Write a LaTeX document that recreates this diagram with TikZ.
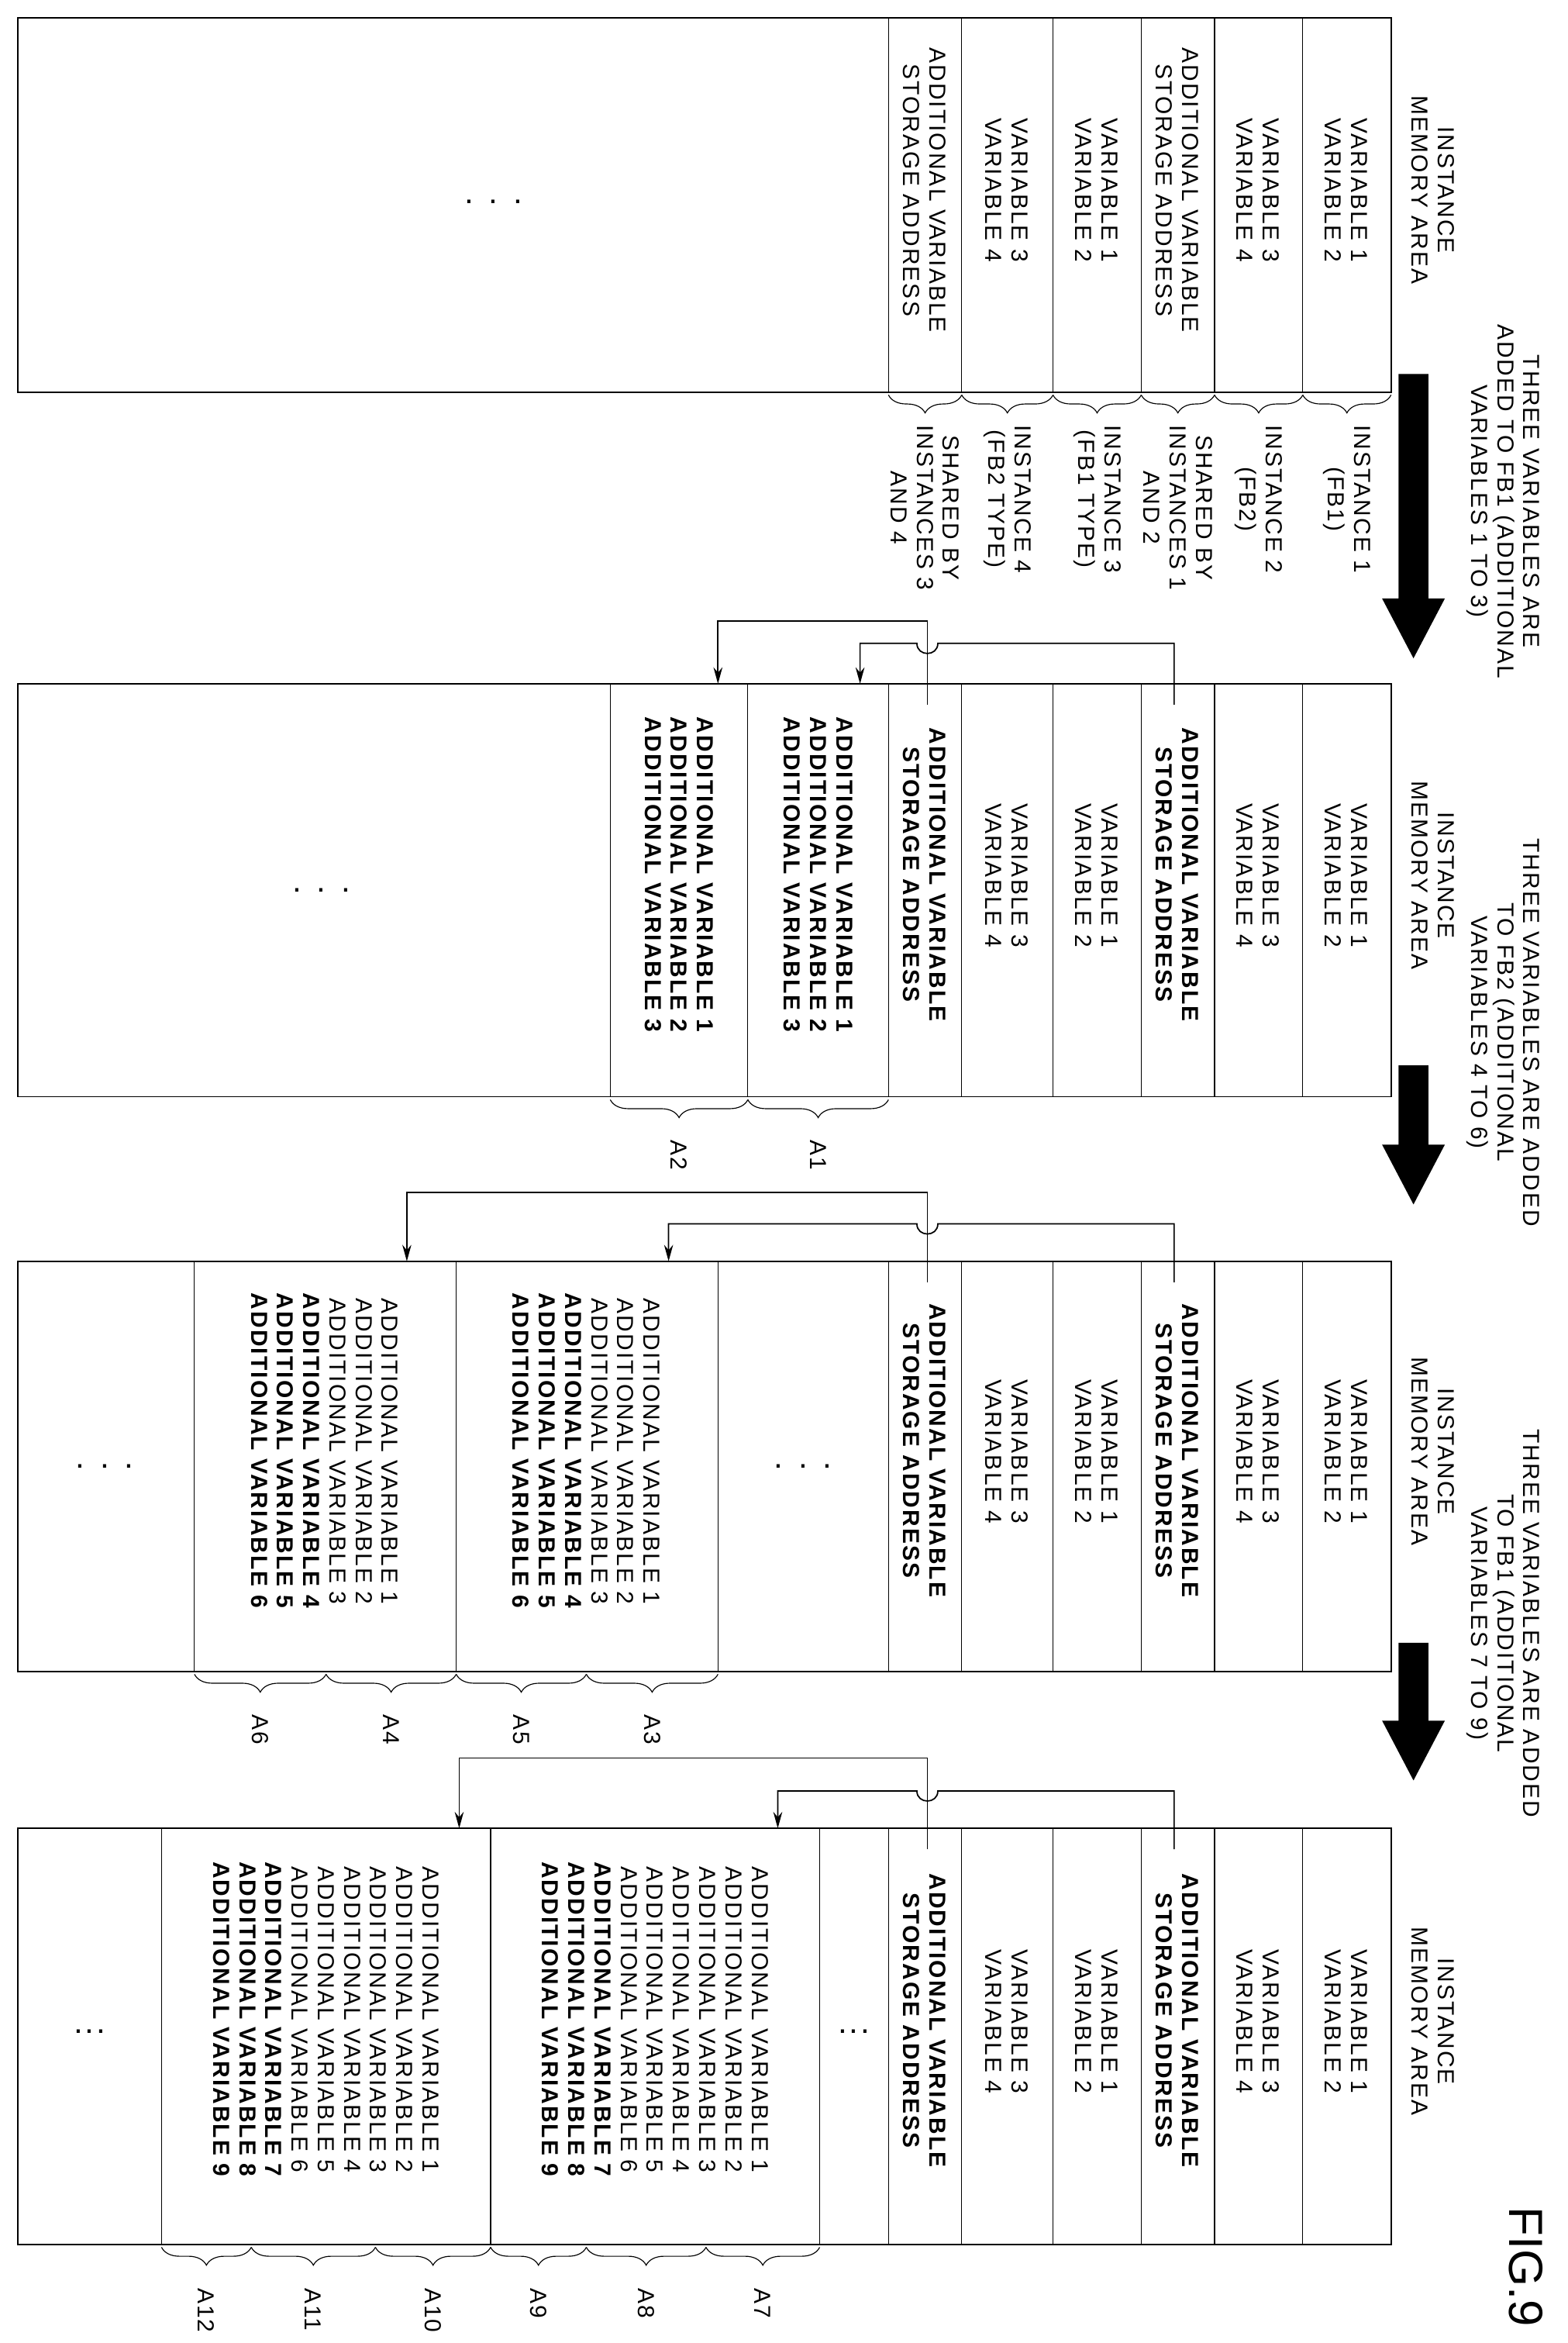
\documentclass[tikz,border=0pt]{standalone}
\usepackage{fontspec}
\setmainfont{Liberation Sans}[LetterSpace=7]
\newfontfamily\figfont{Liberation Sans}
\usetikzlibrary{decorations.pathreplacing,arrows.meta}
\newcommand\fs{\fontsize{15.5}{17.5}\selectfont}
\newcommand\B[1]{\textbf{#1}}
\tikzset{
 txt/.style={rotate=-90,align=center,font=\fs,inner sep=0pt},
 dots/.style={font=\fontsize{22}{22}\selectfont,inner sep=0pt},
 box/.style={draw,line width=1pt},
 div/.style={line width=0.6pt},
 brc/.style={decorate,decoration={brace,amplitude=12pt},line width=0.6pt},
 con/.style={line width=0.9pt},
 arr/.style={con,-{Stealth[length=11pt,width=6pt]}},
 big/.style={fill=black,draw=none}
}
\newcommand\panel[4]{%
 \draw[box] (12,#2) rectangle (930,#3);
 \foreach \x in {871,812,763,704,643,594} \draw[div] (\x,#2)--(\x,#3);
 \pgfmathsetmacro\cy{(#2+#3)/2-10}
 \node[txt] (#1a) at (900,\cy) {VARIABLE 1\\VARIABLE 2};
 \node[txt] (#1b) at (841,\cy) {VARIABLE 3\\VARIABLE 4};
 \node[txt] (#1c) at (787,\cy) {#4{ADDITIONAL VARIABLE}\\#4{STORAGE ADDRESS}};
 \node[txt] (#1d) at (733,\cy) {VARIABLE 1\\VARIABLE 2};
 \node[txt] (#1e) at (673,\cy) {VARIABLE 3\\VARIABLE 4};
 \node[txt] (#1f) at (618,\cy) {#4{ADDITIONAL VARIABLE}\\#4{STORAGE ADDRESS}};
 \node[txt] (#1t) at (958,\cy) {INSTANCE\\MEMORY AREA};
}
\newcommand\links[6]{%
 \coordinate (#1s1) at (785,#2+14);
 \coordinate (#1s2) at (620,#2+14);
 \coordinate (#1t1) at (#4,#2);
 \coordinate (#1t2) at (#6,#2);
 \draw[arr] (#1s1) -- (785,#3) -- (627,#3) .. controls (627,#3+9) and (613,#3+9) .. (613,#3) -- (#4,#3) -- (#1t1);
 \draw[arr] (#1s2) -- (620,#5) -- (#6,#5) -- (#1t2);
}
\newcommand\bigarrow[3]{%
 \fill[big] (935,#2) -- (955,#2) -- (955,#3-40) -- (966,#3-40) -- (945,#3) -- (924,#3-40) -- (935,#3-40) -- cycle;
 \coordinate (#1) at (945,#3);
}
\begin{document}
\begin{tikzpicture}[x=1pt,y=-1pt]
\useasboundingbox (0,0) rectangle (1048,1566);
% ---------- panel 1
\panel{p1}{12}{262}{}
\node[dots] (p1dots) at (330,135) {. . .};
\foreach \r/\l/\n/\t in {930/871/l1/{INSTANCE 1\\(FB1)},871/812/l2/{INSTANCE 2\\(FB2)},812/763/l3/{SHARED BY\\INSTANCES 1\\AND 2},763/704/l4/{INSTANCE 3\\(FB1 TYPE)},704/643/l5/{INSTANCE 4\\(FB2 TYPE)},643/594/l6/{SHARED BY\\INSTANCES 3\\AND 4}}{
 \draw[brc] (\r,264) -- (\l,264);
 \node[txt,anchor=west] (p1\n) at ({(\r+\l)/2},284) {\t};
}
\bigarrow{ar1}{250}{440}
\node[txt] (tx1) at (1005,335) {THREE VARIABLES ARE\\ADDED TO FB1 (ADDITIONAL\\VARIABLES 1 TO 3)};
% ---------- panel 2
\panel{p2}{457}{733}{\B}
\foreach \x in {500,408} \draw[div] (\x,457)--(\x,733);
\node[dots] (p2dots) at (215,595) {. . .};
\node[txt] (p2k1) at (547,585) {\B{ADDITIONAL VARIABLE 1}\\\B{ADDITIONAL VARIABLE 2}\\\B{ADDITIONAL VARIABLE 3}};
\node[txt] (p2k2) at (454,585) {\B{ADDITIONAL VARIABLE 1}\\\B{ADDITIONAL VARIABLE 2}\\\B{ADDITIONAL VARIABLE 3}};
\draw[brc] (594,735) -- (500,735); \node[txt,anchor=west] (A1) at (547,762) {A1};
\draw[brc] (500,735) -- (408,735); \node[txt,anchor=west] (A2) at (454,762) {A2};
\links{p2}{457}{430}{575}{415}{480}
\bigarrow{ar2}{712}{805}
\node[txt] (tx2) at (1005,690) {THREE VARIABLES ARE ADDED\\TO FB2 (ADDITIONAL\\VARIABLES 4 TO 6)};
% ---------- panel 3
\panel{p3}{843}{1117}{\B}
\foreach \x in {480,305,130} \draw[div] (\x,843)--(\x,1117);
\node[dots] (p3dots1) at (537,980) {. . .};
\node[dots] (p3dots2) at (70,980) {. . .};
\node[txt] (p3k1) at (392,970) {ADDITIONAL VARIABLE 1\\ADDITIONAL VARIABLE 2\\ADDITIONAL VARIABLE 3\\\B{ADDITIONAL VARIABLE 4}\\\B{ADDITIONAL VARIABLE 5}\\\B{ADDITIONAL VARIABLE 6}};
\node[txt] (p3k2) at (217,970) {ADDITIONAL VARIABLE 1\\ADDITIONAL VARIABLE 2\\ADDITIONAL VARIABLE 3\\\B{ADDITIONAL VARIABLE 4}\\\B{ADDITIONAL VARIABLE 5}\\\B{ADDITIONAL VARIABLE 6}};
\foreach \r/\l/\n in {480/392/A3,392/305/A5,305/218/A4,218/130/A6}{
 \draw[brc] (\r,1119) -- (\l,1119);
 \node[txt,anchor=west] (\n) at ({(\r+\l)/2},1146) {\n};
}
\links{p3}{843}{818}{447}{797}{272}
\bigarrow{ar3}{1098}{1190}
\node[txt] (tx3) at (1005,1085) {THREE VARIABLES ARE ADDED\\TO FB1 (ADDITIONAL\\VARIABLES 7 TO 9)};
% ---------- panel 4
\panel{p4}{1222}{1500}{\B}
\foreach \x in {548,328,108} \draw[div] (\x,1222)--(\x,1500);
\node[dots] (p4dots1) at (571,1358) {...};
\node[dots] (p4dots2) at (60,1358) {...};
\foreach \cx/\n in {438/p4k1,218/p4k2}
 \node[txt] (\n) at (\cx,1350) {ADDITIONAL VARIABLE 1\\ADDITIONAL VARIABLE 2\\ADDITIONAL VARIABLE 3\\ADDITIONAL VARIABLE 4\\ADDITIONAL VARIABLE 5\\ADDITIONAL VARIABLE 6\\\B{ADDITIONAL VARIABLE 7}\\\B{ADDITIONAL VARIABLE 8}\\\B{ADDITIONAL VARIABLE 9}};
\foreach \r/\l/\n in {548/472/A7,472/392/A8,392/328/A9,328/251/A10,251/168/A11,168/108/A12}{
 \draw[brc] (\r,1502) -- (\l,1502);
 \node[txt,anchor=west] (\n) at ({(\r+\l)/2},1529) {\n};
}
\links{p4}{1222}{1197}{520}{1175}{307}
\node[txt,font=\figfont\fontsize{32}{34}\selectfont] (fig) at (1020,1515) {FIG.9};
\end{tikzpicture}
\end{document}
